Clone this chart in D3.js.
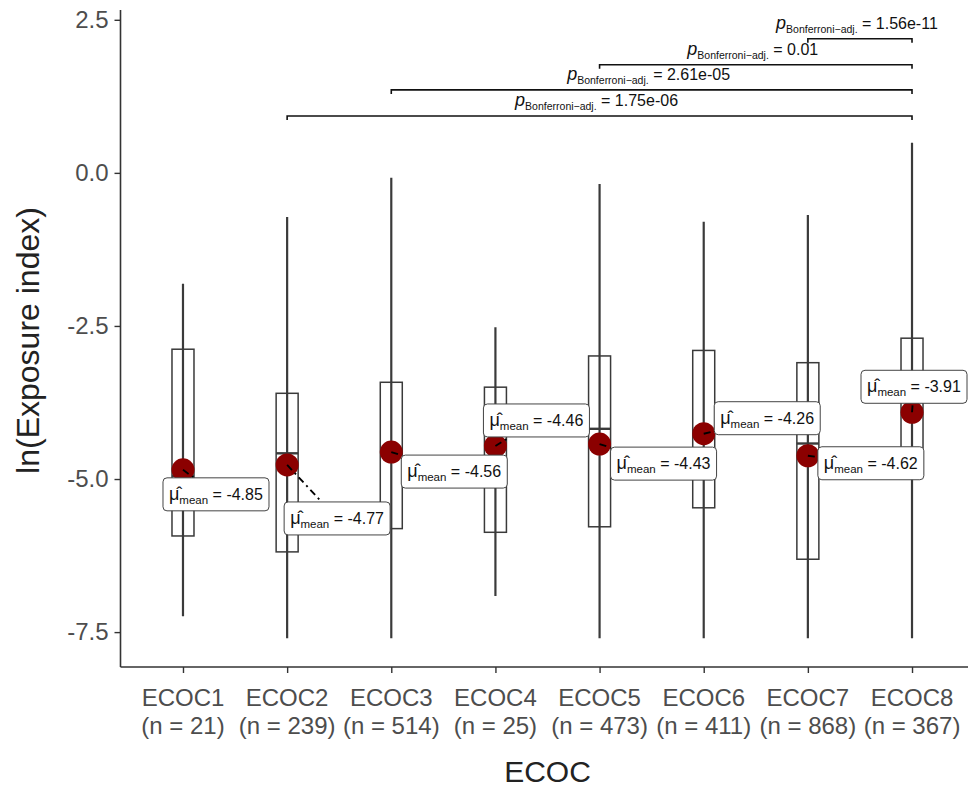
<!DOCTYPE html>
<html>
<head>
<meta charset="utf-8">
<script src="https://cdn.jsdelivr.net/npm/d3@7"></script>
<style>
  html, body { margin: 0; padding: 0; background: #fff; }
  svg { display: block; font-family: "Liberation Sans", Arial, Helvetica, sans-serif; }
</style>
</head>
<body>
<svg id="chart" width="968" height="787"></svg>
<script>
// ---------------- DATA ----------------
const categories = ["ECOC1", "ECOC2", "ECOC3", "ECOC4", "ECOC5", "ECOC6", "ECOC7", "ECOC8"];
const sampleSizes = [21, 239, 514, 25, 473, 411, 868, 367];
const whiskerLow  = [-7.24, -7.60, -7.60, -6.91, -7.60, -7.60, -7.60, -7.60];
const q1Values    = [-5.93, -6.19, -5.81, -5.87, -5.78, -5.47, -6.31, -4.95];
const medianValues= [-4.95, -4.58, -4.60, -4.45, -4.18, -4.30, -4.42, -3.85];
const q3Values    = [-2.88, -3.60, -3.42, -3.50, -2.99, -2.90, -3.10, -2.70];
const whiskerHigh = [-1.81, -0.72, -0.08, -2.52, -0.18, -0.80, -0.69, 0.49];
const meanValues  = [-4.85, -4.77, -4.56, -4.46, -4.43, -4.26, -4.62, -3.91];
const meanLabels  = ["-4.85", "-4.77", "-4.56", "-4.46", "-4.43", "-4.26", "-4.62", "-3.91"];
const yTickValues = [2.5, 0.0, -2.5, -5.0, -7.5];
const yTickLabels = ["2.5", "0.0", "-2.5", "-5.0", "-7.5"];
const compFrom    = ["ECOC7", "ECOC5", "ECOC3", "ECOC2"];
const compTo      = ["ECOC8", "ECOC8", "ECOC8", "ECOC8"];
const compP       = ["1.56e-11", "0.01", "2.61e-05", "1.75e-06"];
const compY       = [2.19, 1.765, 1.355, 0.93];

// ---------------- LAYOUT ----------------
// label (repel) offsets in px relative to the mean point
const labelDx = [-20, -3, 10, -12, 11, 10.5, 10, -51];
const labelDy = [8, 37, 3, -42, 3, -32, -9, -42];
const labelW = 106, labelH = 33;

const svg = d3.select("#chart");
const panel = { left: 120.5, right: 974.5, top: 10, bottom: 667 };

const x = d3.scaleLinear().domain([0.4, 8.6]).range([panel.left, panel.right]);
const xc = name => x(categories.indexOf(name) + 1);
const y = d3.scaleLinear().domain([-8.07, 2.66]).range([panel.bottom, panel.top]);

const axisCol = "#333333", textCol = "#4d4d4d";

// ---------- Axes ----------
const yAxis = d3.axisLeft(y).tickValues(yTickValues)
  .tickFormat((d, i) => yTickLabels[i]).tickSize(6).tickPadding(6);
const gy = svg.append("g").attr("transform", `translate(${panel.left},0)`).call(yAxis);
gy.select(".domain").remove();
gy.append("line").attr("x1", 0).attr("x2", 0).attr("y1", panel.top).attr("y2", panel.bottom)
  .attr("stroke", axisCol).attr("stroke-width", 1.6);
gy.selectAll(".tick line").attr("stroke", axisCol).attr("stroke-width", 1.4);
gy.selectAll(".tick text").attr("fill", textCol).attr("font-size", 24)
  .attr("font-family", "Liberation Sans, Arial, sans-serif");

const xAxis = d3.axisBottom(x).tickValues(d3.range(1, categories.length + 1))
  .tickFormat("").tickSize(6);
const gx = svg.append("g").attr("transform", `translate(0,${panel.bottom})`).call(xAxis);
gx.select(".domain").remove();
gx.append("line").attr("x1", panel.left).attr("x2", 968).attr("y1", 0).attr("y2", 0)
  .attr("stroke", axisCol).attr("stroke-width", 1.6);
gx.selectAll(".tick line").attr("stroke", axisCol).attr("stroke-width", 1.4);

const xlab = svg.append("g");
categories.forEach((c, i) => {
  const t = xlab.append("text").attr("text-anchor", "middle").attr("fill", textCol)
    .attr("font-size", 24);
  t.append("tspan").attr("x", x(i + 1)).attr("y", 706).text(c);
  t.append("tspan").attr("x", x(i + 1)).attr("y", 734).text(`(n = ${sampleSizes[i]})`);
});

svg.append("text").attr("x", (panel.left + panel.right) / 2).attr("y", 782)
  .attr("text-anchor", "middle").attr("font-size", 30).attr("fill", "#222").text("ECOC");
svg.append("text").attr("transform", `translate(39,${(panel.top + panel.bottom) / 2 + 2}) rotate(-90)`)
  .attr("text-anchor", "middle").attr("font-size", 32).attr("fill", "#222").text("ln(Exposure index)");

// ---------- Boxplots ----------
const boxW = 22;
const g = svg.append("g");
categories.forEach((c, i) => {
  const cx = x(i + 1);
  g.append("line").attr("x1", cx).attr("x2", cx)
    .attr("y1", y(whiskerHigh[i])).attr("y2", y(whiskerLow[i]))
    .attr("stroke", "#3a3a3a").attr("stroke-width", 2.2);
  g.append("rect").attr("x", cx - boxW / 2).attr("y", y(q3Values[i]))
    .attr("width", boxW).attr("height", y(q1Values[i]) - y(q3Values[i]))
    .attr("fill", "none").attr("stroke", "#3a3a3a").attr("stroke-width", 1.5);
  g.append("line").attr("x1", cx - boxW / 2).attr("x2", cx + boxW / 2)
    .attr("y1", y(medianValues[i])).attr("y2", y(medianValues[i]))
    .attr("stroke", "#3a3a3a").attr("stroke-width", 2.4);
});

// ---------- Significance brackets ----------
const gb = svg.append("g");
compFrom.forEach((f, i) => {
  const x1 = xc(f), x2 = xc(compTo[i]), yy = y(compY[i]);
  gb.append("path").attr("d", `M${x1},${yy + 4}V${yy}H${x2}V${yy + 4}`)
    .attr("fill", "none").attr("stroke", "#111").attr("stroke-width", 1.6);
  const t = gb.append("text").attr("x", (x1 + x2) / 2 - 3).attr("y", yy - 10)
    .attr("text-anchor", "middle").attr("fill", "#111");
  t.append("tspan").attr("font-style", "italic").attr("font-size", 18).text("p");
  t.append("tspan").attr("font-size", 10.5).attr("dy", 4).text("Bonferroni\u2212adj.");
  t.append("tspan").attr("font-size", 16).attr("dy", -4).text(` = ${compP[i]}`);
});

// ---------- Means ----------
const gm = svg.append("g");
categories.forEach((c, i) => {
  gm.append("circle").attr("cx", x(i + 1)).attr("cy", y(meanValues[i])).attr("r", 11.5)
    .attr("fill", "#8b0000");
});

// segments: from point toward the label centre, clipped at the label border
const gs = svg.append("g");
categories.forEach((c, i) => {
  const px = x(i + 1), py = y(meanValues[i]);
  const lx = px + labelDx[i], ly = py + labelDy[i];
  const cx = lx + labelW / 2, cy = ly + labelH / 2;
  const dx = cx - px, dy = cy - py;
  let t = 1;
  if (dx !== 0) {
    const tx = dx > 0 ? (lx - px) / dx : (lx + labelW - px) / dx;
    if (tx > 0 && tx < t) {
      const yy = py + tx * dy;
      if (yy >= ly && yy <= ly + labelH) t = tx;
    }
  }
  if (dy !== 0) {
    const ty = dy > 0 ? (ly - py) / dy : (ly + labelH - py) / dy;
    if (ty > 0 && ty < t) {
      const xx = px + ty * dx;
      if (xx >= lx && xx <= lx + labelW) t = ty;
    }
  }
  gs.append("line").attr("x1", px).attr("y1", py)
    .attr("x2", px + t * dx).attr("y2", py + t * dy)
    .attr("stroke", "#000").attr("stroke-width", 1.9).attr("stroke-dasharray", "7,4,2,4");
});

// labels
const gl = svg.append("g");
categories.forEach((c, i) => {
  const px = x(i + 1), py = y(meanValues[i]);
  const lx = px + labelDx[i], ly = py + labelDy[i];
  gl.append("rect").attr("x", lx).attr("y", ly).attr("width", labelW).attr("height", labelH)
    .attr("rx", 4).attr("fill", "#fff").attr("stroke", "#444").attr("stroke-width", 1);
  const t = gl.append("text").attr("x", lx + 6).attr("y", ly + 22).attr("fill", "#111");
  t.append("tspan").attr("font-size", 18).text("\u03bc\u0302");
  t.append("tspan").attr("font-size", 11.5).attr("dy", 4).text("mean");
  t.append("tspan").attr("font-size", 16).attr("dy", -4).text(` = ${meanLabels[i]}`);
});
</script>
</body>
</html>
